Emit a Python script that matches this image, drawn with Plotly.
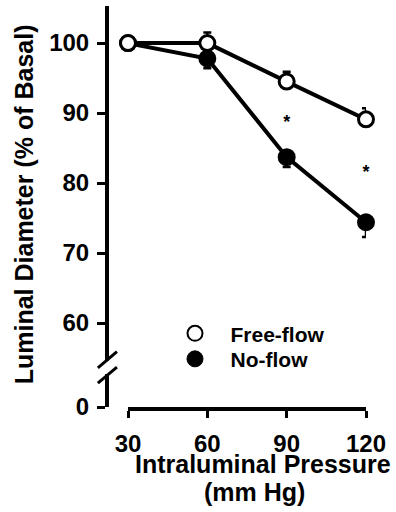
import plotly.graph_objects as go

pressure = [30, 60, 90, 120]
free_flow = [100.0, 100.0, 94.5, 89.1]
free_flow_err = [0.0, 1.5, 1.4, 1.6]
no_flow = [100.0, 97.8, 83.7, 74.4]
no_flow_err = [0.0, 1.4, 1.4, 2.1]
sig_x = [90, 120]
sig_y = [88.5, 81.4]
ytick_vals = [48, 60, 70, 80, 90, 100]
ytick_text = ["0", "60", "70", "80", "90", "100"]
xtick_vals = [30, 60, 90, 120]

FONT = "Liberation Sans, Arial, Helvetica, sans-serif"
W, H = 396, 512
ML, MR, MT, MB = 107, 20, 6, 105
PW = W - ML - MR
PH = H - MT - MB
BOT = H - MB

fig = go.Figure()

fig.add_trace(go.Scatter(
    x=pressure, y=no_flow, mode="lines+markers", name="No-flow",
    line=dict(color="black", width=4),
    marker=dict(symbol="circle", size=16, color="black", line=dict(color="black", width=2)),
    error_y=dict(type="data", symmetric=False, array=[0] * 4, arrayminus=no_flow_err,
                 color="black", thickness=2.5, width=4),
    cliponaxis=False, showlegend=False,
))
fig.add_trace(go.Scatter(
    x=pressure, y=free_flow, mode="lines+markers", name="Free-flow",
    line=dict(color="black", width=4),
    marker=dict(symbol="circle", size=15, color="white", line=dict(color="black", width=3)),
    error_y=dict(type="data", symmetric=False, array=free_flow_err, arrayminus=[0] * 4,
                 color="black", thickness=2.5, width=4),
    cliponaxis=False, showlegend=False,
))
fig.add_trace(go.Scatter(
    x=sig_x, y=sig_y, mode="text", text=["*"] * len(sig_x),
    textfont=dict(family=FONT, size=18, color="black", weight="bold"),
    cliponaxis=False, showlegend=False, hoverinfo="skip",
))
# legend entries (two single-item legends for exact spacing)
fig.add_trace(go.Scatter(
    x=[None], y=[None], mode="markers", name="Free-flow", legend="legend",
    marker=dict(symbol="circle", size=15, color="white", line=dict(color="black", width=2)),
))
fig.add_trace(go.Scatter(
    x=[None], y=[None], mode="markers", name="No-flow", legend="legend2",
    marker=dict(symbol="circle", size=17, color="black", line=dict(color="black", width=1)),
))

LEG_FONT = dict(family=FONT, size=21, color="black", weight="bold")
x0_px, x1_px = 128, 366
fig.update_layout(
    width=W, height=H,
    margin=dict(l=ML, r=MR, t=MT, b=MB, pad=0, autoexpand=False),
    paper_bgcolor="white", plot_bgcolor="white",
    font=dict(family=FONT, color="black"),
    xaxis=dict(
        domain=[(x0_px - ML) / PW, (x1_px - ML) / PW], automargin=False,
        range=[30, 120], tickvals=xtick_vals, ticktext=[str(v) for v in xtick_vals],
        showline=True, linecolor="black", linewidth=4,
        ticks="outside", ticklen=7, tickwidth=3, tickcolor="black",
        showgrid=False, zeroline=False,
        tickfont=dict(family=FONT, size=24, color="black", weight="bold"),
        ticklabelstandoff=5,
    ),
    yaxis=dict(
        anchor="free", position=0, automargin=False,
        range=[48, 105.3], tickvals=ytick_vals, ticktext=ytick_text,
        showline=True, linecolor="black", linewidth=4,
        ticks="outside", ticklen=8, tickwidth=3, tickcolor="black",
        showgrid=False, zeroline=False,
        tickfont=dict(family=FONT, size=24, color="black", weight="bold"),
        ticklabelstandoff=3,
    ),
    legend=dict(
        x=(159.5 - ML) / PW, y=(BOT - 313.2) / PH, xanchor="left", yanchor="top",
        font=LEG_FONT, bgcolor="rgba(0,0,0,0)", itemwidth=61,
    ),
    legend2=dict(
        x=(159.5 - ML) / PW, y=(BOT - 338.7) / PH, xanchor="left", yanchor="top",
        font=LEG_FONT, bgcolor="rgba(0,0,0,0)", itemwidth=61,
    ),
    shapes=[
        dict(type="rect", xref="paper", yref="y", x0=-0.02, x1=0.02, y0=52.7, y1=54.6,
             fillcolor="white", line=dict(width=0), layer="above"),
        dict(type="line", xref="paper", yref="y", x0=-0.034, x1=0.037, y0=53.6, y1=55.9,
             line=dict(color="black", width=3), layer="above"),
        dict(type="line", xref="paper", yref="y", x0=-0.034, x1=0.037, y0=51.4, y1=53.7,
             line=dict(color="black", width=3), layer="above"),
    ],
    annotations=[
        dict(text="Luminal Diameter (% of Basal)", xref="paper", yref="paper", textangle=-90,
             x=(24.3 - ML) / PW, y=(BOT - 204) / PH, xanchor="center", yanchor="middle",
             showarrow=False, font=dict(family=FONT, size=25, color="black", weight="bold")),
        dict(text="Intraluminal Pressure", xref="paper", yref="paper",
             x=(263 - ML) / PW, y=-(464 - BOT) / PH, xanchor="center", yanchor="middle",
             showarrow=False, font=dict(family=FONT, size=25, color="black", weight="bold")),
        dict(text="(mm Hg)", xref="paper", yref="paper",
             x=(254 - ML) / PW, y=-(492 - BOT) / PH, xanchor="center", yanchor="middle",
             showarrow=False, font=dict(family=FONT, size=25, color="black", weight="bold")),
    ],
)

fig.write_html("out.html", config={"displayModeBar": False},
               post_script="document.body.style.margin='0';document.body.style.padding='0';")
